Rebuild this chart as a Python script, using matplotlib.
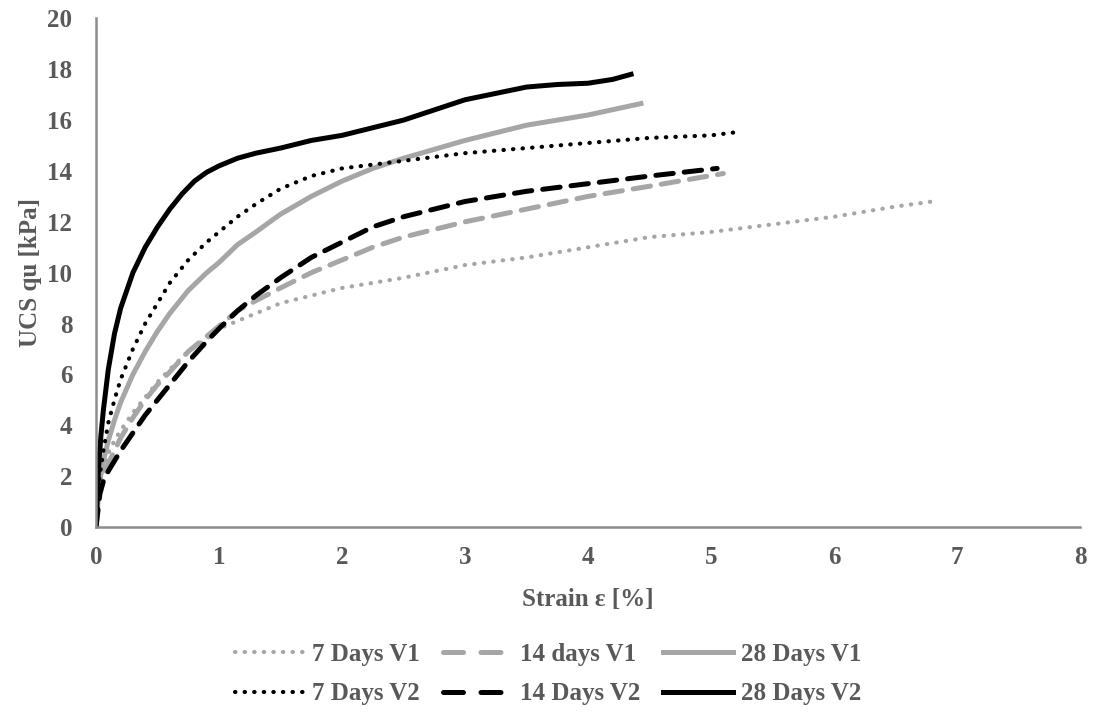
import numpy as np
import matplotlib.pyplot as plt
from matplotlib.lines import Line2D

# Strain [%] and UCS [kPa]
x_7v1 = [0, 0.03, 0.06, 0.1, 0.15, 0.2, 0.3, 0.4, 0.5, 0.6, 0.75, 0.9, 1.0, 1.15, 1.3, 1.5, 1.75, 2.0, 2.5, 3.0, 3.5, 4.0, 4.5, 5.0, 5.5, 6.0, 6.5, 6.8]
y_7v1 = [0, 1.6, 2.3, 2.9, 3.4, 3.8, 4.5, 5.1, 5.7, 6.2, 6.9, 7.4, 7.8, 8.1, 8.4, 8.8, 9.1, 9.4, 9.8, 10.3, 10.6, 11.0, 11.4, 11.6, 11.9, 12.2, 12.6, 12.8]

x_14v1 = [0, 0.03, 0.06, 0.1, 0.15, 0.2, 0.3, 0.4, 0.5, 0.6, 0.75, 0.9, 1.0, 1.15, 1.3, 1.5, 1.75, 2.0, 2.25, 2.5, 3.0, 3.5, 4.0, 4.5, 5.1]
y_14v1 = [0, 1.2, 1.9, 2.5, 3.0, 3.5, 4.3, 5.0, 5.6, 6.1, 6.9, 7.5, 7.9, 8.5, 8.9, 9.4, 10.0, 10.5, 11.0, 11.4, 12.0, 12.5, 13.0, 13.4, 13.9]

x_28v1 = [0, 0.03, 0.06, 0.1, 0.15, 0.2, 0.3, 0.4, 0.5, 0.6, 0.75, 0.9, 1.0, 1.15, 1.3, 1.5, 1.75, 2.0, 2.25, 2.5, 3.0, 3.5, 4.0, 4.43]
y_28v1 = [0, 1.8, 2.6, 3.4, 4.2, 4.9, 6.0, 6.9, 7.7, 8.4, 9.3, 10.0, 10.4, 11.1, 11.6, 12.3, 13.0, 13.6, 14.1, 14.5, 15.2, 15.8, 16.2, 16.65]

x_7v2 = [0, 0.03, 0.06, 0.1, 0.15, 0.2, 0.3, 0.4, 0.5, 0.6, 0.75, 0.9, 1.0, 1.15, 1.3, 1.5, 1.75, 2.0, 2.5, 3.0, 3.5, 4.0, 4.5, 5.0, 5.25]
y_7v2 = [0, 2.0, 3.0, 4.1, 5.0, 5.8, 7.0, 8.0, 8.8, 9.6, 10.5, 11.2, 11.6, 12.2, 12.7, 13.3, 13.8, 14.1, 14.4, 14.7, 14.9, 15.1, 15.3, 15.4, 15.55]

x_14v2 = [0, 0.03, 0.06, 0.1, 0.15, 0.2, 0.3, 0.4, 0.5, 0.6, 0.75, 0.9, 1.0, 1.15, 1.3, 1.5, 1.75, 2.0, 2.25, 2.5, 3.0, 3.5, 4.0, 4.5, 5.05]
y_14v2 = [0, 1.3, 1.8, 2.2, 2.6, 3.0, 3.7, 4.4, 5.0, 5.6, 6.5, 7.3, 7.8, 8.5, 9.1, 9.8, 10.6, 11.2, 11.8, 12.2, 12.8, 13.2, 13.5, 13.8, 14.1]

x_28v2 = [0, 0.02, 0.04, 0.06, 0.1, 0.15, 0.2, 0.3, 0.4, 0.5, 0.6, 0.7, 0.8, 0.9, 1.0, 1.15, 1.3, 1.5, 1.75, 2.0, 2.25, 2.5, 3.0, 3.5, 3.75, 4.0, 4.2, 4.35]
y_28v2 = [0, 2.3, 3.6, 4.6, 6.2, 7.6, 8.6, 10.0, 11.0, 11.8, 12.5, 13.1, 13.6, 13.95, 14.2, 14.5, 14.7, 14.9, 15.2, 15.4, 15.7, 16.0, 16.8, 17.3, 17.4, 17.45, 17.6, 17.8]

xticks = np.arange(0, 9, 1)
yticks = np.arange(0, 21, 2)

grey = '#595959'
light = '#a6a6a6'
font = ['Liberation Serif', 'DejaVu Serif']

plt.rcParams['font.family'] = font
plt.rcParams['font.weight'] = 'bold'

dot = (0, (0.1, 2.2))
dash = (0, (3.5, 2.2))

fig = plt.figure(figsize=(10.96, 7.18), dpi=100)
ax = fig.add_axes([0.0876, 0.266, 0.8978, 0.7084])

ax.plot(x_7v1, y_7v1, color=light, lw=3, linestyle=dot, dash_capstyle='round')
ax.plot(x_14v1, y_14v1, color=light, lw=3.6, linestyle=dash, dash_capstyle='round')
ax.plot(x_28v1, y_28v1, color=light, lw=3.6)
ax.plot(x_7v2, y_7v2, color='black', lw=3, linestyle=dot, dash_capstyle='round')
ax.plot(x_14v2, y_14v2, color='black', lw=3.6, linestyle=dash, dash_capstyle='round')
ax.plot(x_28v2, y_28v2, color='black', lw=3.6)

ax.set_xlim(0, 8)
ax.set_ylim(0, 20)
ax.set_xticks(xticks, labels=[str(v) for v in xticks], fontsize=18, fontweight='bold', color=grey)
ax.set_yticks(yticks, labels=[str(v) for v in yticks], fontsize=18, fontweight='bold', color=grey)
ax.tick_params(axis='x', length=0, pad=14)
ax.tick_params(axis='y', length=0, pad=17)
for s in ['top', 'right']:
    ax.spines[s].set_visible(False)
for s in ['left', 'bottom']:
    ax.spines[s].set_color('#8c8c8c')
    ax.spines[s].set_linewidth(1.8)

ax.set_xlabel('Strain ε [%]', fontsize=18, color=grey, labelpad=13, fontweight='bold')
ax.set_ylabel('UCS qu [kPa]', fontsize=18, color=grey, labelpad=4, fontweight='bold')

handles = [
    Line2D([], [], color=light, lw=3, linestyle=dot, dash_capstyle='round'),
    Line2D([], [], color='black', lw=3, linestyle=dot, dash_capstyle='round'),
    Line2D([], [], color=light, lw=3.6, linestyle=(0, (4, 3.5)), dash_capstyle='round'),
    Line2D([], [], color='black', lw=3.6, linestyle=(0, (4, 3.5)), dash_capstyle='round'),
    Line2D([], [], color=light, lw=3.6),
    Line2D([], [], color='black', lw=3.6),
]
labels = ['7 Days V1', '7 Days V2', '14 days V1', '14 Days V2', '28 Days V1', '28 Days V2']
leg = fig.legend(handles, labels, ncol=3, loc='center', bbox_to_anchor=(0.5, 0.061),
                 frameon=False, fontsize=18, handlelength=2.8, handletextpad=0.3,
                 columnspacing=0.9, labelspacing=0.65)
for t in leg.get_texts():
    t.set_color(grey)
    t.set_fontweight('bold')

fig.savefig('out.png', dpi=100)
